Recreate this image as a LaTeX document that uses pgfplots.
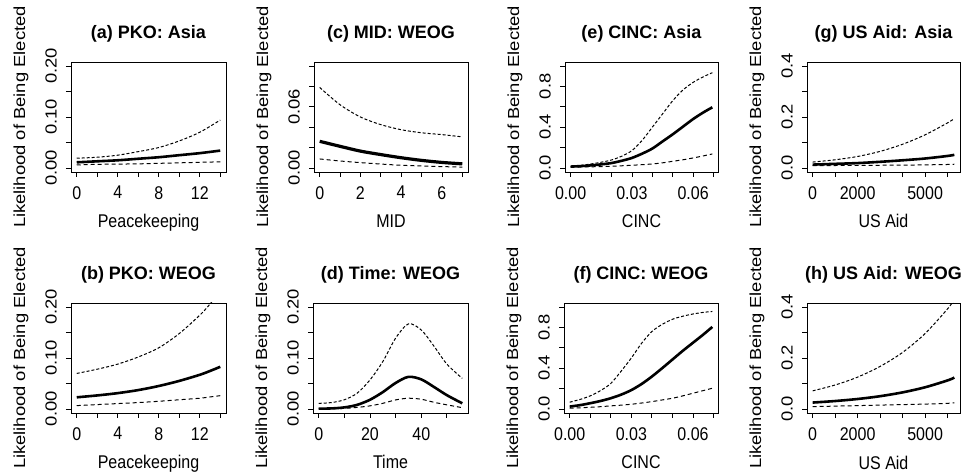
\documentclass[border=0pt]{standalone}
\usepackage{fontspec}
\setmainfont{Liberation Sans}
\usepackage{pgfplots}
\pgfplotsset{compat=1.18}

\newcommand\lbl{\fontsize{16bp}{16bp}\selectfont}
\newcommand\ttl{\fontsize{18bp}{18bp}\selectfont\bfseries}

% panel data: x, lower, mean, upper
\pgfplotstableread{
x lo mn hi
0  0.006  0.011 0.019
2  0.007  0.013 0.021
4  0.0075 0.015 0.025
6  0.008  0.018 0.032
8  0.009  0.021 0.040
10 0.010  0.025 0.053
12 0.011  0.029 0.070
14 0.012  0.034 0.094
}\pkoasia
\pgfplotstableread{
x lo mn hi
0  0.0065 0.0228 0.0697
2  0.0085 0.0265 0.078
4  0.0105 0.031  0.088
6  0.0125 0.037  0.102
8  0.015  0.045  0.120
10 0.018  0.055  0.148
12 0.021  0.067  0.184
13 0.0235 0.0745 0.206
14 0.026  0.0827 0.232
}\pkoweog
\pgfplotstableread{
x lo mn hi
0 0.0088 0.0261 0.079
1 0.0068 0.0212 0.062
2 0.0052 0.0165 0.050
3 0.0038 0.0131 0.0425
4 0.0026 0.0100 0.0375
5 0.0019 0.0074 0.0345
6 0.0013 0.0054 0.0327
7 0.0008 0.0040 0.0305
}\midweog
\pgfplotstableread{
x lo mn hi
0  0.0    0.0005 0.011
5  0.0003 0.001  0.0125
10 0.001  0.003  0.018
15 0.003  0.008  0.031
20 0.006  0.018  0.057
25 0.011  0.033  0.093
30 0.0177 0.051  0.139
35 0.021  0.063  0.167
40 0.019  0.058  0.155
45 0.013  0.043  0.123
50 0.008  0.027  0.088
56 0.0025 0.011  0.060
}\timeweog
\pgfplotstableread{
x lo mn hi
0      0.007 0.013 0.016
0.005  0.009 0.018 0.025
0.01   0.011 0.025 0.039
0.015  0.013 0.035 0.056
0.02   0.016 0.048 0.078
0.025  0.021 0.070 0.115
0.03   0.026 0.098 0.170
0.035  0.032 0.140 0.270
0.04   0.039 0.190 0.400
0.045  0.050 0.260 0.530
0.05   0.065 0.330 0.660
0.055  0.080 0.405 0.765
0.06   0.098 0.480 0.840
0.065  0.118 0.545 0.895
0.0694 0.137 0.595 0.935
}\cincasia
\pgfplotstableread{
x lo mn hi
0      0.007 0.023 0.066
0.005  0.011 0.037 0.093
0.01   0.016 0.056 0.128
0.015  0.022 0.078 0.180
0.02   0.030 0.105 0.250
0.025  0.037 0.140 0.370
0.03   0.046 0.185 0.500
0.035  0.058 0.245 0.645
0.04   0.072 0.318 0.760
0.045  0.088 0.400 0.830
0.05   0.105 0.485 0.880
0.055  0.128 0.570 0.910
0.06   0.154 0.650 0.932
0.065  0.180 0.730 0.948
0.0694 0.203 0.805 0.957
}\cincweog
\pgfplotstableread{
x lo mn hi
0    0.009  0.013  0.023
1000 0.0095 0.016  0.032
2000 0.010  0.019  0.045
3000 0.0105 0.024  0.065
4000 0.011  0.030  0.093
5000 0.012  0.037  0.130
6000 0.0135 0.047  0.177
6300 0.0145 0.0515 0.194
}\aidasia
\pgfplotstableread{
x lo mn hi
0    0.009  0.025  0.071
1000 0.011  0.031  0.094
2000 0.013  0.039  0.125
3000 0.015  0.050  0.167
4000 0.017  0.065  0.222
5000 0.019  0.085  0.296
6000 0.022  0.112  0.393
6300 0.024  0.123  0.430
}\aidweog

\pgfplotsset{
  rp/.style={
    scale only axis, height=110bp, anchor=north west,
    xtick pos=left, ytick pos=left,
    tick align=outside, major tick length=5bp,
    axis line style={line width=0.8bp},
    every tick/.style={black, line width=0.8bp},
    scaled ticks=false, minor tick num=0,
    tick label style={font=\lbl},
    xticklabel style={anchor=north, inner sep=0pt, yscale=1.15},
    yticklabel style={rotate=90, anchor=south, inner sep=0pt, xscale=1.15},
    xticklabel shift=9bp, yticklabel shift=9bp,
    label style={font=\lbl},
    xlabel style={at={([yshift=-56bp]axis description cs:0.5,0)}, anchor=base, yscale=1.15},
    ylabel style={at={([xshift=-46bp]axis description cs:0,0.5)}, anchor=base, xscale=1.15},
    every axis title/.style={at={([yshift=23bp]axis description cs:0.5,1)},
      anchor=base, font=\ttl},
    ylabel={Likelihood of Being Elected},
  },
  mn/.style={black, line width=2.6bp, smooth},
  lo/.style={black, line width=1bp, dash pattern=on 4bp off 3bp, smooth},
  hi/.style={black, line width=1bp, dash pattern=on 3bp off 2bp, smooth},
  pko/.style={xmin=-0.56, xmax=14.56, xtick={0,2,4,6,8,10,12,14},
    xticklabels={0,,4,,8,,12,}, xlabel={Peacekeeping}},
  y02/.style={ymin=-0.008, ymax=0.208, ytick={0,0.05,0.1,0.15,0.2},
    yticklabels={0.00,,0.10,,0.20}},
  cinc/.style={xmin=-0.002776, xmax=0.072176,
    xtick={0,0.01,0.02,0.03,0.04,0.05,0.06,0.07},
    xticklabels={0.00,,,0.03,,,0.06,}, xlabel={CINC},
    ymin=-0.04, ymax=1.04, ytick={0,0.2,0.4,0.6,0.8,1},
    yticklabels={0.0,,0.4,,0.8,}},
  aid/.style={xmin=-252, xmax=6552,
    xtick={0,1000,2000,3000,4000,5000,6000},
    xticklabels={0,,2000,,,5000,}, xlabel={US Aid},
    ymin=-0.016, ymax=0.416, ytick={0,0.1,0.2,0.3,0.4},
    yticklabels={0.0,,0.2,,0.4}},
}

\begin{document}
\begin{tikzpicture}
\path[use as bounding box] (0,0) rectangle (963bp,475bp);

% row 1
\begin{axis}[rp, pko, y02, at={(71bp,413bp)}, width=155bp, title={(a) PKO: Asia}]
\addplot[lo] table[x=x, y=lo] {\pkoasia};
\addplot[hi] table[x=x, y=hi] {\pkoasia};
\addplot[mn] table[x=x, y=mn] {\pkoasia};
\end{axis}

\begin{axis}[rp, at={(314bp,413bp)}, width=154bp, title={(c) MID: WEOG},
  xmin=-0.28, xmax=7.28, xtick={0,1,2,3,4,5,6,7}, xticklabels={0,,2,,4,,6,},
  xlabel={MID}, ymin=-0.004, ymax=0.104, ytick={0,0.02,0.04,0.06,0.08,0.1},
  yticklabels={0.00,,,0.06,,}]
\addplot[lo] table[x=x, y=lo] {\midweog};
\addplot[hi] table[x=x, y=hi] {\midweog};
\addplot[mn, line width=3.2bp] table[x=x, y=mn] {\midweog};
\end{axis}

\begin{axis}[rp, cinc, at={(565bp,413bp)}, width=153bp, title={(e) CINC: Asia}]
\addplot[lo] table[x=x, y=lo] {\cincasia};
\addplot[hi] table[x=x, y=hi] {\cincasia};
\addplot[mn] table[x=x, y=mn] {\cincasia};
\end{axis}

\begin{axis}[rp, aid, at={(807bp,413bp)}, width=153bp, title={(g) US Aid: Asia}]
\addplot[lo] table[x=x, y=lo] {\aidasia};
\addplot[hi] table[x=x, y=hi] {\aidasia};
\addplot[mn] table[x=x, y=mn] {\aidasia};
\end{axis}

% row 2
\begin{axis}[rp, pko, y02, at={(71bp,172bp)}, width=155bp, title={(b) PKO: WEOG}]
\addplot[lo] table[x=x, y=lo] {\pkoweog};
\addplot[hi] table[x=x, y=hi] {\pkoweog};
\addplot[mn] table[x=x, y=mn] {\pkoweog};
\end{axis}

\begin{axis}[rp, y02, at={(313bp,172bp)}, width=155bp, title={(d) Time: WEOG},
  xmin=-2.24, xmax=58.24, xtick={0,10,20,30,40,50}, xticklabels={0,,20,,40,},
  xlabel={Time}]
\addplot[lo] table[x=x, y=lo] {\timeweog};
\addplot[hi] table[x=x, y=hi] {\timeweog};
\addplot[mn] table[x=x, y=mn] {\timeweog};
\end{axis}

\begin{axis}[rp, cinc, at={(564bp,172bp)}, width=154bp, title={(f) CINC: WEOG}]
\addplot[lo] table[x=x, y=lo] {\cincweog};
\addplot[hi] table[x=x, y=hi] {\cincweog};
\addplot[mn] table[x=x, y=mn] {\cincweog};
\end{axis}

\begin{axis}[rp, aid, at={(807bp,172bp)}, width=153bp, title={(h) US Aid: WEOG}]
\addplot[lo] table[x=x, y=lo] {\aidweog};
\addplot[hi] table[x=x, y=hi] {\aidweog};
\addplot[mn] table[x=x, y=mn] {\aidweog};
\end{axis}
\end{tikzpicture}
\end{document}
